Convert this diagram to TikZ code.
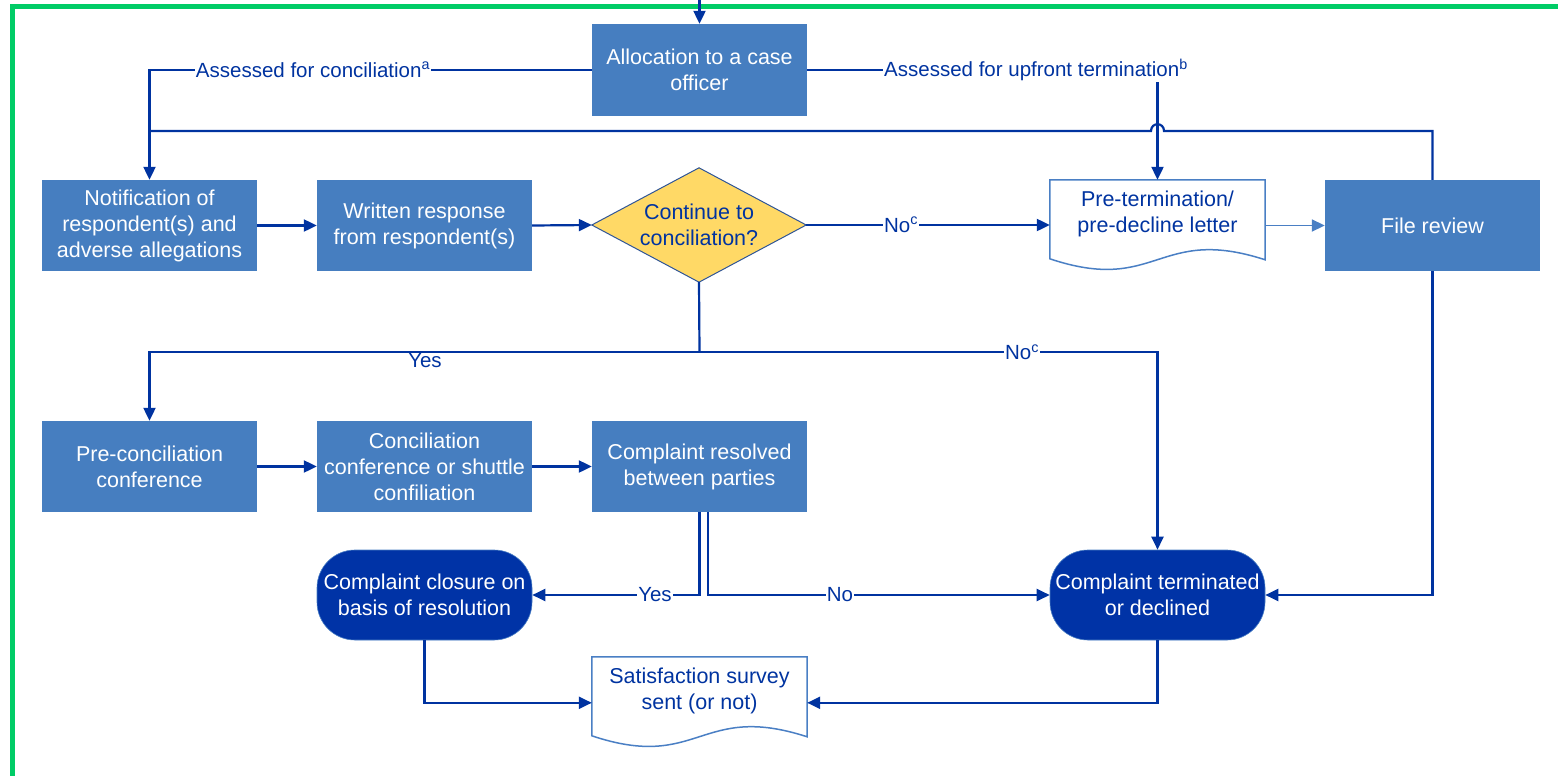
\documentclass[tikz,border=0pt]{standalone}
\usepackage{fontspec}
\setmainfont{Liberation Sans}
\usetikzlibrary{arrows.meta,calc}
\definecolor{boxblue}{HTML}{467EC0}
\definecolor{lineblue}{HTML}{0033A0}
\definecolor{termblue}{HTML}{0033A6}
\definecolor{docblue}{HTML}{4A7FC4}
\definecolor{decfill}{HTML}{FFD966}
\definecolor{decline}{HTML}{2F5597}
\definecolor{framegreen}{HTML}{00CC66}
\begin{document}
\begin{tikzpicture}[x=1pt,y=-1pt,
  font=\fontsize{21.5}{26}\selectfont,
  proc/.style={rectangle, fill=boxblue, text=white, minimum width=215pt, minimum height=91pt, align=center, inner sep=2pt},
  termnode/.style={rectangle, rounded corners=38pt, fill=termblue, draw=docblue, line width=0.6pt, text=white, minimum width=215pt, minimum height=90pt, align=center, inner sep=1pt},
  docnode/.style={rectangle, text=lineblue, minimum width=215pt, minimum height=68pt, align=center, inner sep=1pt},
  docline/.style={draw=docblue, line width=1.5pt},
  decbox/.style={rectangle, minimum width=214pt, minimum height=114pt, inner sep=0pt},
  conn/.style={draw=lineblue, line width=2.2pt},
  arr/.style={conn, -{Triangle[length=13pt,width=12pt]}},
  lab/.style={fill=white, text=lineblue, inner sep=1pt, font=\fontsize{20.5}{24}\selectfont},
]
\useasboundingbox (0,0) rectangle (1558,776);

% frame
\draw[draw=framegreen, line width=5pt] (12,776) -- (12,7) -- (1558,7);

% nodes
\node[proc, minimum height=92pt] (alloc) at (699.5,70) {Allocation to a case\\officer};
\node[proc] (notif) at (149.5,225.5) {Notification of\\respondent(s) and\\adverse allegations};
\node[proc] (resp) at (424.5,225.5) {Written response\\from respondent(s)};
\node[decbox] (dec) at (699,225) {};
\filldraw[fill=decfill, draw=decline, line width=1pt] (dec.north) -- (dec.east) -- (dec.south) -- (dec.west) -- cycle;
\node[text=lineblue, align=center] (dectext) at (dec.center) {Continue to\\conciliation?};
\node[docnode] (pt) at (1157.5,214) {Pre-termination/\\pre-decline letter};
\draw[docline] (pt.north west) -- (pt.north east) -- ([yshift=-80pt]pt.north east)
  .. controls ([yshift=-45pt]pt.north) and ([yshift=-115pt]pt.north) .. ([yshift=-79pt]pt.north west) -- cycle;
\node[proc] (file) at (1432.5,225.5) {File review};
\node[proc] (precon) at (149.5,466.5) {Pre-conciliation\\conference};
\node[proc] (conc) at (424.5,466.5) {Conciliation\\conference or shuttle\\confiliation};
\node[proc] (res) at (699.5,466.5) {Complaint resolved\\between parties};
\node[termnode] (close) at (424.5,595) {Complaint closure on\\basis of resolution};
\node[termnode] (term) at (1157.5,595) {Complaint terminated\\or declined};
\node[docnode] (sat) at (699.5,691) {Satisfaction survey\\sent (or not)};
\draw[docline] (sat.north west) -- (sat.north east) -- ([yshift=-80pt]sat.north east)
  .. controls ([yshift=-45pt]sat.north) and ([yshift=-115pt]sat.north) .. ([yshift=-79pt]sat.north west) -- cycle;

% coordinates
\coordinate (entry) at (699.5,0);
\coordinate (loopy) at (0,131);
\coordinate (split) at (699.5,352);
\coordinate (satL) at ([yshift=-46pt]sat.north west);
\coordinate (satR) at ([yshift=-46pt]sat.north east);

% connectors
\draw[arr] (entry) -- (alloc.north);
\draw[arr] (alloc.west) -| (notif.north);
\node[lab] (labA) at (313,70) {Assessed for conciliation\textsuperscript{a}};
\draw[arr] (alloc.east) -| (pt.north);
\node[lab] (labB) at (1036,70) {Assessed for upfront termination\textsuperscript{b}};
\draw[conn] (file.north) |- (1164,131) .. controls (1164,122) and (1151,122) .. (1151,131) -- (notif.north |- loopy);
\draw[arr] (notif.east) -- (resp.west);
\draw[arr] (resp.east) -- (dec.west);
\draw[arr] (dec.east) -- (dec.east -| pt.west);
\node[lab] (labNo1) at (901,225) {No\textsuperscript{c}};
\draw[draw=docblue, line width=1.8pt, -{Triangle[length=13pt,width=12pt]}] (file.west -| pt.east) -- (file.west);
\draw[conn] (dec.south) -- (split);
\draw[arr] (split) -| (precon.north);
\node[text=lineblue, inner sep=0.5pt, anchor=north, font=\fontsize{20.5}{24}\selectfont] (labYes1) at (425,353) {Yes};
\draw[arr] (split) -| (term.north);
\node[lab] (labNo2) at (1022,352) {No\textsuperscript{c}};
\draw[arr] (precon.east) -- (conc.west);
\draw[arr] (conc.east) -- (res.west);
\draw[arr] (res.south) |- (close.east);
\node[lab] (labYes2) at (655,595) {Yes};
\draw[arr] ([xshift=8.5pt]res.south) |- (term.west);
\node[lab] (labNo3) at (840,595) {No};
\draw[arr] (file.south) |- (term.east);
\draw[arr] (close.south) |- (satL);
\draw[arr] (term.south) |- (satR);
\end{tikzpicture}
\end{document}
